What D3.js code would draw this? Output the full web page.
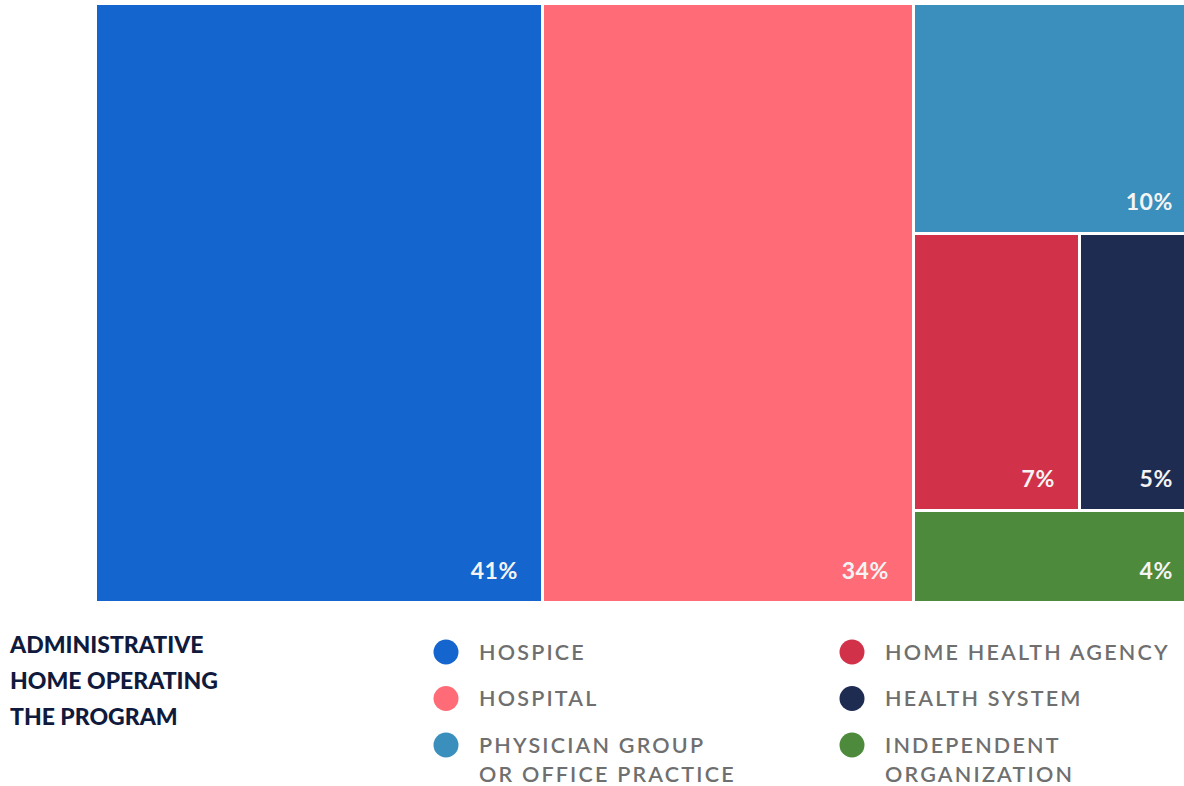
<!DOCTYPE html>
<html>
<head>
<meta charset="utf-8">
<script src="https://cdn.jsdelivr.net/npm/d3@7"></script>
<style>
  body { margin: 0; background: #fff; }
  svg { display: block; }
</style>
</head>
<body>
<svg id="chart"></svg>
<script>
// data
var categories = ['HOSPICE', 'HOSPITAL', 'PHYSICIAN GROUP|OR OFFICE PRACTICE',
    'HOME HEALTH AGENCY', 'HEALTH SYSTEM', 'INDEPENDENT|ORGANIZATION'];
var shares = [41, 34, 10, 7, 5, 4];
var colors = ['#1565cf', '#ff6b76', '#3a8fbc', '#d2314a', '#1f2c52', '#4e8a3b'];
var title_lines = ['ADMINISTRATIVE', 'HOME OPERATING', 'THE PROGRAM'];

var width = 1184, height = 786;
var svg = d3.select('#chart').attr('width', width).attr('height', height);

// nested structure: two big blocks, then a column of the rest
var leaf = function(i) { return {name: categories[i], value: shares[i], color: colors[i]}; };
var tree = {
    name: 'root', tile: 'dice', children: [
        leaf(0), leaf(1),
        {name: 'rest', tile: 'slice', children: [
            leaf(2),
            {name: 'mid', tile: 'dice', children: [leaf(3), leaf(4)]},
            leaf(5)
        ]}
    ]
};

var tile = function(node, x0, y0, x1, y1) {
    if (node.data.tile == 'slice') d3.treemapSlice(node, x0, y0, x1, y1);
    else d3.treemapDice(node, x0, y0, x1, y1);
};

var root = d3.hierarchy(tree).sum(function(d) { return d.children ? 0 : d.value; });
d3.treemap().tile(tile).size([1099, 596]).paddingInner(3).round(true)(root);

var g = svg.append('g').attr('transform', 'translate(97, 5)');
var cells = g.selectAll('g.cell')
    .data(root.leaves())
    .join('g')
    .attr('class', 'cell')
    .attr('transform', function(d) { return 'translate(' + d.x0 + ',' + d.y0 + ')'; });

cells.append('rect')
    .attr('width', function(d) { return d.x1 - d.x0; })
    .attr('height', function(d) { return d.y1 - d.y0; })
    .attr('fill', function(d) { return d.data.color; });

cells.append('text')
    .attr('x', function(d) { return d.x1 - d.x0 - 23; })
    .attr('y', function(d) { return d.y1 - d.y0 - 22; })
    .attr('text-anchor', 'end')
    .attr('font-family', 'Lato, sans-serif')
    .attr('font-weight', 700)
    .attr('font-size', 23)
    .attr('letter-spacing', 0.6)
    .attr('fill', '#f4f4f4')
    .text(function(d) { return d.data.value + '%'; });

// title
svg.append('text')
    .attr('font-family', 'Lato, sans-serif')
    .attr('font-weight', 900)
    .attr('font-size', 23)
    .attr('fill', '#0f1a3d')
    .selectAll('tspan')
    .data(title_lines)
    .join('tspan')
    .attr('x', 10)
    .attr('y', function(d, i) { return 653 + i * 36; })
    .text(function(d) { return d; });

// legend, two columns of three
var legend = svg.append('g');
var items = legend.selectAll('g.item')
    .data(categories)
    .join('g')
    .attr('class', 'item')
    .attr('transform', function(d, i) {
        var col = Math.floor(i / 3), row = i % 3;
        return 'translate(' + (446 + col * 406) + ',' + (652 + row * 46.5) + ')';
    });

items.append('circle')
    .attr('r', 12.5)
    .attr('fill', function(d, i) { return colors[i]; });

items.append('text')
    .attr('font-family', 'Lato, sans-serif')
    .attr('font-weight', 600)
    .attr('font-size', 21.5)
    .attr('letter-spacing', 2.2)
    .attr('fill', '#6f6f6f')
    .selectAll('tspan')
    .data(function(d) { return d.split('|'); })
    .join('tspan')
    .attr('x', 33)
    .attr('y', function(d, i) { return 7.5 + i * 29; })
    .text(function(d) { return d; });
</script>
</body>
</html>
